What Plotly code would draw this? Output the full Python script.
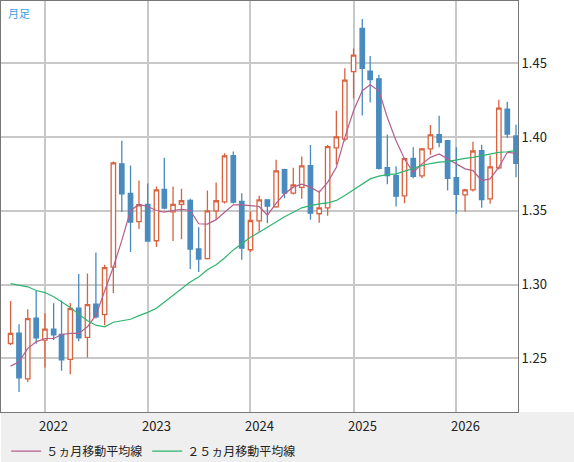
import pandas as pd
import plotly.graph_objects as go

months = pd.date_range("2021-09-01", periods=60, freq="MS")

opens = [1.2601, 1.2671, 1.2362, 1.2772, 1.2624, 1.2698, 1.2662, 1.2493, 1.2840, 1.2642,
         1.2867, 1.2797, 1.3119, 1.3818, 1.3617, 1.3426, 1.3543, 1.3297, 1.3644, 1.3493,
         1.3543, 1.3570, 1.3241, 1.3176, 1.3500, 1.3561, 1.3874, 1.3563, 1.3236, 1.3432,
         1.3574, 1.3527, 1.3779, 1.3619, 1.3659, 1.3806, 1.3480, 1.3520, 1.3926, 1.3986,
         1.4443, 1.4736, 1.4446, 1.4394, 1.3793, 1.3739, 1.3601, 1.3855, 1.3736, 1.3919,
         1.4016, 1.3975, 1.3725, 1.3608, 1.3642, 1.3907, 1.3581, 1.3791, 1.4189, 1.4007]
highs = [1.2889, 1.2732, 1.2833, 1.2959, 1.2806, 1.2874, 1.2892, 1.2876, 1.3072, 1.3076,
         1.3218, 1.3135, 1.3833, 1.3975, 1.3806, 1.3705, 1.3684, 1.3664, 1.3860, 1.3664,
         1.3649, 1.3581, 1.3389, 1.3637, 1.3691, 1.3889, 1.3901, 1.3619, 1.3497, 1.3601,
         1.3574, 1.3845, 1.3785, 1.3791, 1.3867, 1.3946, 1.3637, 1.3946, 1.4178, 1.4466,
         1.4599, 1.4799, 1.4549, 1.4421, 1.4016, 1.3801, 1.3860, 1.3930, 1.3925, 1.4081,
         1.4144, 1.3980, 1.3930, 1.3650, 1.3968, 1.3948, 1.3874, 1.4252, 1.4239, 1.4083]
lows = [1.2590, 1.2272, 1.2340, 1.2599, 1.2439, 1.2624, 1.2416, 1.2392, 1.2617, 1.2507,
        1.2770, 1.2725, 1.2943, 1.3491, 1.3220, 1.3376, 1.3295, 1.3254, 1.3510, 1.3295,
        1.3308, 1.3105, 1.3085, 1.3170, 1.3439, 1.3550, 1.3550, 1.3169, 1.3220, 1.3355,
        1.3416, 1.3520, 1.3585, 1.3610, 1.3581, 1.3439, 1.3419, 1.3466, 1.3813, 1.3970,
        1.4261, 1.4146, 1.4234, 1.3780, 1.3680, 1.3529, 1.3551, 1.3720, 1.3720, 1.3880,
        1.3930, 1.3637, 1.3480, 1.3495, 1.3630, 1.3520, 1.3547, 1.3780, 1.3993, 1.3727]
closes = [1.2669, 1.2369, 1.2770, 1.2639, 1.2698, 1.2660, 1.2491, 1.2838, 1.2639, 1.2865,
          1.2781, 1.3115, 1.3824, 1.3615, 1.3423, 1.3541, 1.3295, 1.3642, 1.3518, 1.3543,
          1.3568, 1.3241, 1.3173, 1.3500, 1.3568, 1.3872, 1.3558, 1.3247, 1.3434, 1.3574,
          1.3531, 1.3770, 1.3619, 1.3676, 1.3804, 1.3484, 1.3520, 1.3934, 1.4000, 1.4385,
          1.4554, 1.4464, 1.4389, 1.3788, 1.3739, 1.3599, 1.3853, 1.3734, 1.3919, 1.4014,
          1.3964, 1.3720, 1.3612, 1.3642, 1.3905, 1.3576, 1.3797, 1.4196, 1.4020, 1.3822]

ma5 = [1.2448, 1.2477, 1.2568, 1.2612, 1.2635, 1.2635, 1.2662, 1.2669, 1.2669, 1.2714,
       1.2793, 1.2950, 1.3119, 1.3299, 1.3502, 1.3543, 1.3529, 1.3502, 1.3491, 1.3502,
       1.3509, 1.3502, 1.3412, 1.3410, 1.3440, 1.3490, 1.3540, 1.3540, 1.3536, 1.3529,
       1.3470, 1.3550, 1.3615, 1.3660, 1.3680, 1.3660, 1.3626, 1.3693, 1.3795, 1.3997,
       1.4178, 1.4313, 1.4353, 1.4313, 1.4132, 1.3975, 1.3851, 1.3761, 1.3818, 1.3862,
       1.3885, 1.3851, 1.3818, 1.3784, 1.3772, 1.3705, 1.3716, 1.3795, 1.3896, 1.3889]
ma25 = [1.3007, 1.2995, 1.2985, 1.2960, 1.2946, 1.2918, 1.2883, 1.2845, 1.2800, 1.2755,
        1.2725, 1.2714, 1.2745, 1.2755, 1.2765, 1.2790, 1.2812, 1.2840, 1.2880, 1.2925,
        1.2970, 1.3017, 1.3051, 1.3100, 1.3135, 1.3180, 1.3235, 1.3280, 1.3320, 1.3355,
        1.3389, 1.3425, 1.3460, 1.3490, 1.3520, 1.3535, 1.3547, 1.3553, 1.3570, 1.3603,
        1.3640, 1.3680, 1.3716, 1.3735, 1.3745, 1.3750, 1.3770, 1.3790, 1.3806, 1.3820,
        1.3830, 1.3833, 1.3845, 1.3855, 1.3862, 1.3875, 1.3885, 1.3896, 1.3900, 1.3907]

years = ["2022", "2023", "2024", "2025", "2026"]
y_ticks = [1.25, 1.30, 1.35, 1.40, 1.45]

up_col = "#d9623f"
down_col = "#4a8bbf"
font = "Noto Sans CJK JP"

fig = go.Figure()
fig.add_trace(go.Candlestick(
    x=months, open=opens, high=highs, low=lows, close=closes,
    increasing=dict(line=dict(color=up_col, width=1.3), fillcolor="white"),
    decreasing=dict(line=dict(color=down_col, width=1.3), fillcolor=down_col),
    whiskerwidth=0, showlegend=False, hoverinfo="skip"))
fig.add_trace(go.Scatter(x=months, y=ma5, mode="lines", name="５ヵ月移動平均線",
                         line=dict(color="#b45f8c", width=1.2)))
fig.add_trace(go.Scatter(x=months, y=ma25, mode="lines", name="２５ヵ月移動平均線",
                         line=dict(color="#2eb56e", width=1.2)))

# bottom band behind the year labels and legend
fig.add_shape(type="rect", xref="paper", yref="paper", x0=0, x1=1.2, y0=-0.2, y1=0,
              fillcolor="#efefef", line=dict(width=0), layer="below")

# year labels sit just right of the January gridline
for y in years:
    fig.add_annotation(x=f"{y}-02-01", y=0, yref="paper", yanchor="top", yshift=-2,
                       text=y, showarrow=False, font=dict(size=13, color="#222"))

fig.add_annotation(x=0.01, y=0.995, xref="paper", yref="paper", xanchor="left", yanchor="top",
                   text="月足", showarrow=False, font=dict(size=11, color="#3a9ee0"))

fig.update_layout(
    width=574, height=462,
    margin=dict(l=1, r=56, t=1, b=50, autoexpand=False),
    paper_bgcolor="white", plot_bgcolor="white",
    font=dict(family=font, size=12, color="#222"),
    boxgap=0.2,
    xaxis=dict(range=["2021-07-29", "2026-08-08"], rangeslider=dict(visible=False),
               tickvals=[f"{y}-01-01" for y in years], showticklabels=False,
               showgrid=True, gridcolor="#c8c8c8", gridwidth=1.5, ticks="",
               showline=True, linecolor="#777", mirror=True, zeroline=False,
               automargin=False),
    yaxis=dict(range=[1.2137, 1.4921], side="right", tickvals=y_ticks, tickformat=".2f",
               showgrid=True, gridcolor="#c8c8c8", gridwidth=1.5, ticks="",
               showline=True, linecolor="#777", mirror=True, zeroline=False,
               tickfont=dict(size=13, color="#222"), automargin=False),
    legend=dict(orientation="h", x=0.01, y=-0.06, xanchor="left", yanchor="top",
                bgcolor="rgba(0,0,0,0)", font=dict(size=12, color="#222")),
)

fig.write_html("out.html", config={"displayModeBar": False},
               post_script="document.body.style.margin='0';")
